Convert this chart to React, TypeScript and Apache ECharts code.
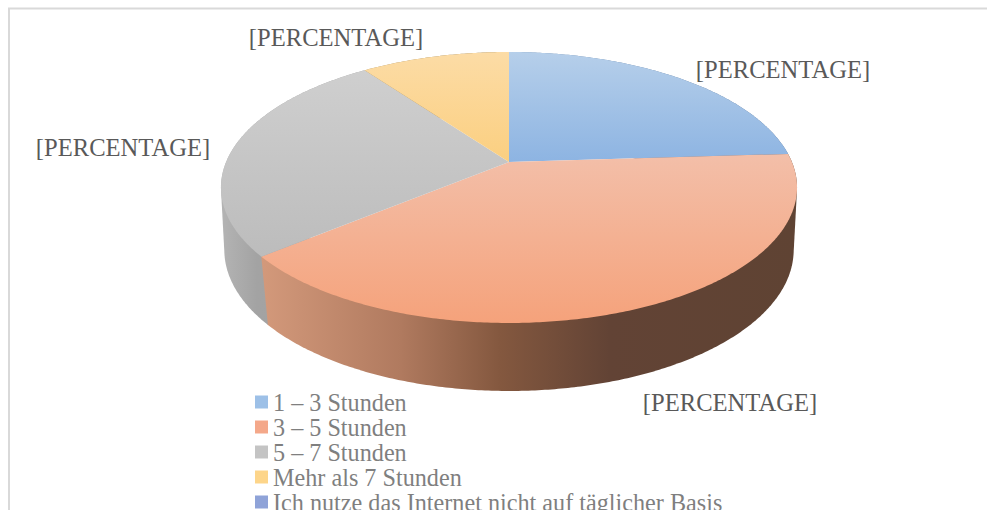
import React, { useEffect, useRef } from "react";
import * as echarts from "echarts";

const categories = [
  "1 – 3 Stunden",
  "3 – 5 Stunden",
  "5 – 7 Stunden",
  "Mehr als 7 Stunden",
  "Ich nutze das Internet nicht auf täglicher Basis",
];
const shares = [24, 40, 26, 10, 0];
const labelText = "[PERCENTAGE]";

const legendColors = ["#9dc0e7", "#f4a88a", "#c4c4c4", "#fdd58a", "#8fa3d8"];
const topGradients = [
  ["#b6cfea", "#8db4e2"],
  ["#f3bfa9", "#f5a27b"],
  ["#cfcfcf", "#bcbcbc"],
  ["#fcdca6", "#fbcf80"],
  ["#a3b2dc", "#8fa3d8"],
];
const wallStops: [number, string][][] = [
  [[0, "#6f8fb5"], [1, "#4f6a8c"]],
  [[0, "#d3997b"], [0.26, "#b07a5f"], [0.445, "#84583f"], [0.65, "#624335"], [1, "#5f4333"]],
  [[0, "#b4b4b4"], [0.25, "#a3a3a3"], [1, "#a0a0a0"]],
  [[0, "#a99060"], [1, "#8a744c"]],
  [[0, "#6f80aa"], [1, "#55648a"]],
];
const labelPos: ([number, number] | null)[] = [[783, 69], [730, 402], [123, 147], [336, 37], null];

const topPlane = { cx: 509, cy: 162, R: 282.9, B: 130.7, K: 0.188 };
const basePlane = { cx: 509, cy: 227.4, R: 281, B: 137.4, K: 0.16 };

type Plane = typeof topPlane;
function project(p: Plane, a: number): number[] {
  const u = Math.sin(a);
  const v = Math.cos(a);
  const w = 1 + p.K * v;
  return [p.cx + (p.R * u) / w, p.cy - (p.B * v) / w];
}
function arc(p: Plane, a0: number, a1: number): number[][] {
  const n = Math.max(2, Math.ceil(Math.abs(a1 - a0) / 0.01));
  const pts: number[][] = [];
  for (let i = 0; i <= n; i++) pts.push(project(p, a0 + ((a1 - a0) * i) / n));
  return pts;
}
// The side of a slice is everything swept between its top rim and its base rim.
function hull(input: number[][]): number[][] {
  const pts = [...input].sort((a, b) => a[0] - b[0] || a[1] - b[1]);
  const cross = (o: number[], a: number[], b: number[]) =>
    (a[0] - o[0]) * (b[1] - o[1]) - (a[1] - o[1]) * (b[0] - o[0]);
  const lower: number[][] = [];
  for (const p of pts) {
    while (lower.length >= 2 && cross(lower[lower.length - 2], lower[lower.length - 1], p) <= 0) lower.pop();
    lower.push(p);
  }
  const upper: number[][] = [];
  for (let i = pts.length - 1; i >= 0; i--) {
    const p = pts[i];
    while (upper.length >= 2 && cross(upper[upper.length - 2], upper[upper.length - 1], p) <= 0) upper.pop();
    upper.push(p);
  }
  return [...lower.slice(0, -1), ...upper.slice(0, -1)];
}
const total = shares.reduce((a, b) => a + b, 0);

function vGrad(c: string[]) {
  return new echarts.graphic.LinearGradient(0, 0, 0, 1, [
    { offset: 0, color: c[0] },
    { offset: 1, color: c[1] },
  ]);
}
function hGrad(stops: [number, string][]) {
  return new echarts.graphic.LinearGradient(
    0, 0, 1, 0,
    stops.map(([offset, color]) => ({ offset, color })),
  );
}

function sliceSeries(i: number) {
  const before = shares.slice(0, i).reduce((a, b) => a + b, 0);
  const a0 = (before / total) * Math.PI * 2;
  const a1 = ((before + shares[i]) / total) * Math.PI * 2;
  return {
    type: "custom",
    name: categories[i],
    coordinateSystem: "none",
    silent: true,
    z: i === 1 ? 3 : 2,
    itemStyle: { color: legendColors[i] },
    data: [[shares[i]]],
    renderItem: () => {
      if (shares[i] <= 0) return { type: "group", children: [] };
      const wall = hull([...arc(topPlane, a0, a1), ...arc(basePlane, a1, a0)]);
      return {
        type: "group",
        children: [
          {
            type: "polygon",
            shape: { points: wall },
            style: { fill: hGrad(wallStops[i]) },
          },
        ],
      };
    },
  };
}

function topSeries(i: number) {
  const before = shares.slice(0, i).reduce((a, b) => a + b, 0);
  const a0 = (before / total) * Math.PI * 2;
  const a1 = ((before + shares[i]) / total) * Math.PI * 2;
  return {
    type: "custom",
    coordinateSystem: "none",
    silent: true,
    z: 5,
    data: [[shares[i]]],
    renderItem: () => {
      if (shares[i] <= 0) return { type: "group", children: [] };
      const children: any[] = [
        {
          type: "polygon",
          shape: { points: [[topPlane.cx, topPlane.cy], ...arc(topPlane, a0, a1)] },
          style: { fill: vGrad(topGradients[i]) },
        },
      ];
      const pos = labelPos[i];
      if (pos) {
        children.push({
          type: "text",
          x: pos[0],
          y: pos[1],
          style: {
            text: labelText,
            fill: "#595959",
            font: '24.6px "Liberation Serif"',
            align: "center",
            verticalAlign: "middle",
          },
        });
      }
      return { type: "group", children };
    },
  };
}

export default function App() {
  const ref = useRef<HTMLDivElement>(null);
  useEffect(() => {
    const chart = echarts.init(ref.current!, undefined, { renderer: "svg" });
    chart.setOption({
      animation: false,
      backgroundColor: "#ffffff",
      legend: {
        orient: "vertical",
        left: 255,
        top: 390,
        height: 300,
        itemWidth: 13,
        itemHeight: 13,
        itemGap: 1,
        padding: 0,
        icon: "rect",
        data: categories.map((name) => ({ name })),
        textStyle: {
          color: "#7f7f7f",
          fontFamily: "Liberation Serif",
          fontSize: 24.2,
          padding: [0, 0, 0, 0],
        },
      },
      graphic: [
        {
          type: "polyline",
          silent: true,
          shape: { points: [[9, 510], [9, 8.5], [987, 8.5]] },
          style: { stroke: "#d9d9d9", lineWidth: 2, fill: "none" },
        },
      ],
      series: [
        ...categories.map((_, i) => sliceSeries(i)),
        ...categories.map((_, i) => topSeries(i)),
      ],
    });
    return () => chart.dispose();
  }, []);
  return <div ref={ref} style={{ position: "absolute", left: 0, top: 0, width: 987, height: 510 }} />;
}
